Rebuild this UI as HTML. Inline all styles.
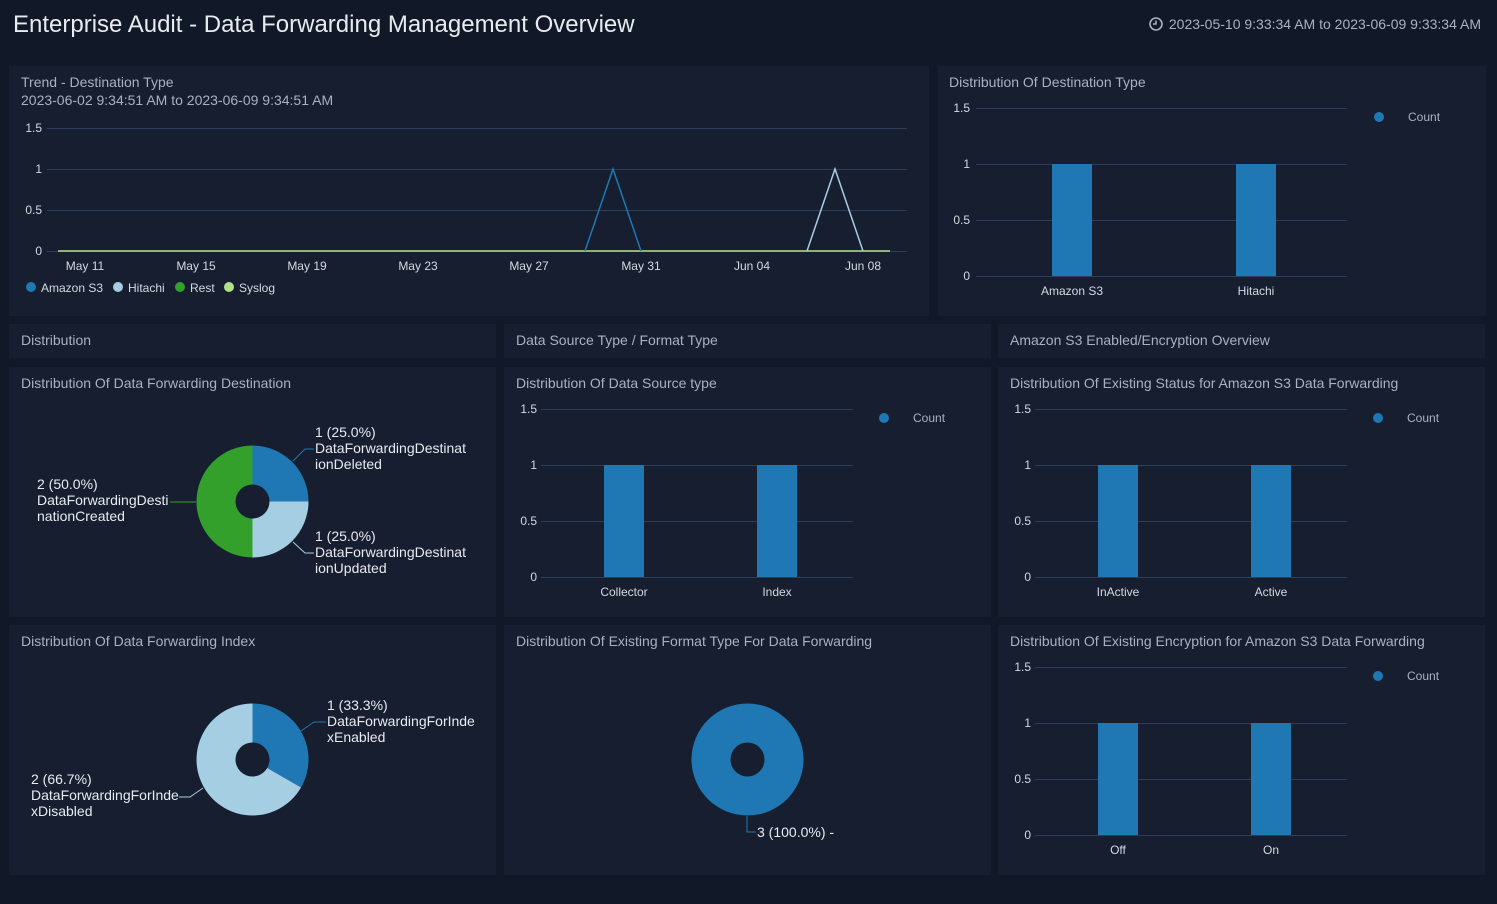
<!DOCTYPE html>
<html><head><meta charset="utf-8"><style>
body{margin:0;background:#111827;width:1497px;height:904px;overflow:hidden;font-family:"Liberation Sans",sans-serif}
svg{display:block}
</style></head><body>
<svg width="1497" height="904" xmlns="http://www.w3.org/2000/svg" font-family="Liberation Sans, sans-serif">
<rect width="1497" height="904" fill="#111827"/>
<g fill="#161e30">
<rect x="9" y="66" width="920" height="250"/>
<rect x="938" y="66" width="548" height="250"/>
<rect x="9" y="324" width="487" height="34"/>
<rect x="504" y="324" width="487" height="34"/>
<rect x="998" y="324" width="487" height="34"/>
<rect x="9" y="367" width="487" height="250"/>
<rect x="504" y="367" width="487" height="250"/>
<rect x="998" y="367" width="487" height="250"/>
<rect x="9" y="625" width="487" height="250"/>
<rect x="504" y="625" width="487" height="250"/>
<rect x="998" y="625" width="487" height="250"/>
</g>
<text x="13" y="32" font-size="24" fill="#e8ebf0">Enterprise Audit - Data Forwarding Management Overview</text>
<circle cx="1156" cy="24" r="6" fill="none" stroke="#aab2bf" stroke-width="1.6"/>
<path d="M1156 20.5V24H1153" stroke="#aab2bf" stroke-width="1.5" fill="none"/>
<text x="1481" y="29" font-size="14" fill="#aab2bf" text-anchor="end">2023-05-10 9:33:34 AM to 2023-06-09 9:33:34 AM</text>
<g font-size="14" fill="#aab2bf">
<text x="21" y="87">Trend - Destination Type</text>
<text x="21" y="105">2023-06-02 9:34:51 AM to 2023-06-09 9:34:51 AM</text>
<text x="949" y="87">Distribution Of Destination Type</text>
<text x="21" y="345">Distribution</text>
<text x="516" y="345">Data Source Type / Format Type</text>
<text x="1010" y="345">Amazon S3 Enabled/Encryption Overview</text>
<text x="21" y="388">Distribution Of Data Forwarding Destination</text>
<text x="516" y="388">Distribution Of Data Source type</text>
<text x="1010" y="388">Distribution Of Existing Status for Amazon S3 Data Forwarding</text>
<text x="21" y="646">Distribution Of Data Forwarding Index</text>
<text x="516" y="646">Distribution Of Existing Format Type For Data Forwarding</text>
<text x="1010" y="646">Distribution Of Existing Encryption for Amazon S3 Data Forwarding</text>
</g>
<!-- trend -->
<g stroke="#2d3d5a" stroke-width="1">
<line x1="47" y1="128.5" x2="907" y2="128.5"/><line x1="47" y1="169.5" x2="907" y2="169.5"/>
<line x1="47" y1="210.5" x2="907" y2="210.5"/><line x1="47" y1="251.5" x2="907" y2="251.5"/>
</g>
<g font-size="12" fill="#d5d9e0" text-anchor="end">
<text x="42" y="132">1.5</text><text x="42" y="173">1</text><text x="42" y="214">0.5</text><text x="42" y="255">0</text>
</g>
<g font-size="12" fill="#d5d9e0" text-anchor="middle">
<text x="85" y="270">May 11</text><text x="196" y="270">May 15</text><text x="307" y="270">May 19</text><text x="418" y="270">May 23</text>
<text x="529" y="270">May 27</text><text x="641" y="270">May 31</text><text x="752" y="270">Jun 04</text><text x="863" y="270">Jun 08</text>
</g>
<line x1="58" y1="251" x2="890" y2="251" stroke="#b2df8a" stroke-width="1.5"/>
<polyline points="585,251 613,169 641,251" fill="none" stroke="#1f78b4" stroke-width="1.5"/>
<polyline points="807,251 835,169 863,251" fill="none" stroke="#a6cee3" stroke-width="1.5"/>
<g font-size="12" fill="#d5d9e0">
<circle cx="31" cy="287" r="5" fill="#1f78b4"/><text x="41" y="292">Amazon S3</text>
<circle cx="118" cy="287" r="5" fill="#a6cee3"/><text x="128" y="292">Hitachi</text>
<circle cx="180" cy="287" r="5" fill="#33a02c"/><text x="190" y="292">Rest</text>
<circle cx="229" cy="287" r="5" fill="#b2df8a"/><text x="239" y="292">Syslog</text>
</g>
<!-- bar chart template -->
<g id="b1">
<g stroke="#2d3d5a"><line x1="976" y1="108.5" x2="1347" y2="108.5"/><line x1="976" y1="164.5" x2="1347" y2="164.5"/><line x1="976" y1="220.5" x2="1347" y2="220.5"/><line x1="976" y1="276.5" x2="1347" y2="276.5"/></g>
<g font-size="12" fill="#d5d9e0" text-anchor="end"><text x="970" y="112">1.5</text><text x="970" y="168">1</text><text x="970" y="224">0.5</text><text x="970" y="280">0</text></g>
<rect x="1052" y="164" width="40" height="112" fill="#1f78b4"/><rect x="1236" y="164" width="40" height="112" fill="#1f78b4"/>
<g font-size="12" fill="#d5d9e0" text-anchor="middle"><text x="1072" y="295">Amazon S3</text><text x="1256" y="295">Hitachi</text></g>
<circle cx="1379" cy="117" r="5" fill="#1f78b4"/><text x="1408" y="121" font-size="12" fill="#aab2bf">Count</text>
</g>
<g>
<g stroke="#2d3d5a"><line x1="541" y1="409.5" x2="853" y2="409.5"/><line x1="541" y1="465.5" x2="853" y2="465.5"/><line x1="541" y1="521.5" x2="853" y2="521.5"/><line x1="541" y1="577.5" x2="853" y2="577.5"/></g>
<g font-size="12" fill="#d5d9e0" text-anchor="end"><text x="537" y="413">1.5</text><text x="537" y="469">1</text><text x="537" y="525">0.5</text><text x="537" y="581">0</text></g>
<rect x="604" y="465" width="40" height="112" fill="#1f78b4"/><rect x="757" y="465" width="40" height="112" fill="#1f78b4"/>
<g font-size="12" fill="#d5d9e0" text-anchor="middle"><text x="624" y="596">Collector</text><text x="777" y="596">Index</text></g>
<circle cx="884" cy="418" r="5" fill="#1f78b4"/><text x="913" y="422" font-size="12" fill="#aab2bf">Count</text>
</g>
<g>
<g stroke="#2d3d5a"><line x1="1035" y1="409.5" x2="1347" y2="409.5"/><line x1="1035" y1="465.5" x2="1347" y2="465.5"/><line x1="1035" y1="521.5" x2="1347" y2="521.5"/><line x1="1035" y1="577.5" x2="1347" y2="577.5"/></g>
<g font-size="12" fill="#d5d9e0" text-anchor="end"><text x="1031" y="413">1.5</text><text x="1031" y="469">1</text><text x="1031" y="525">0.5</text><text x="1031" y="581">0</text></g>
<rect x="1098" y="465" width="40" height="112" fill="#1f78b4"/><rect x="1251" y="465" width="40" height="112" fill="#1f78b4"/>
<g font-size="12" fill="#d5d9e0" text-anchor="middle"><text x="1118" y="596">InActive</text><text x="1271" y="596">Active</text></g>
<circle cx="1378" cy="418" r="5" fill="#1f78b4"/><text x="1407" y="422" font-size="12" fill="#aab2bf">Count</text>
</g>
<g>
<g stroke="#2d3d5a"><line x1="1035" y1="667.5" x2="1347" y2="667.5"/><line x1="1035" y1="723.5" x2="1347" y2="723.5"/><line x1="1035" y1="779.5" x2="1347" y2="779.5"/><line x1="1035" y1="835.5" x2="1347" y2="835.5"/></g>
<g font-size="12" fill="#d5d9e0" text-anchor="end"><text x="1031" y="671">1.5</text><text x="1031" y="727">1</text><text x="1031" y="783">0.5</text><text x="1031" y="839">0</text></g>
<rect x="1098" y="723" width="40" height="112" fill="#1f78b4"/><rect x="1251" y="723" width="40" height="112" fill="#1f78b4"/>
<g font-size="12" fill="#d5d9e0" text-anchor="middle"><text x="1118" y="854">Off</text><text x="1271" y="854">On</text></g>
<circle cx="1378" cy="676" r="5" fill="#1f78b4"/><text x="1407" y="680" font-size="12" fill="#aab2bf">Count</text>
</g>
<!-- pie 1 -->
<path d="M252.5 445.5 A56 56 0 0 1 308.5 501.5 L252.5 501.5Z" fill="#1f78b4"/>
<path d="M308.5 501.5 A56 56 0 0 1 252.5 557.5 L252.5 501.5Z" fill="#a6cee3"/>
<path d="M252.5 557.5 A56 56 0 0 1 252.5 445.5 L252.5 501.5Z" fill="#33a02c"/>
<circle cx="252.5" cy="501.5" r="17" fill="#161e30"/>
<g fill="none" stroke-width="1">
<polyline points="293,461 305,449 314,449" stroke="#1f78b4"/>
<polyline points="293,542 305,553 314,553" stroke="#a6cee3"/>
<polyline points="196,502 170,502" stroke="#33a02c"/>
</g>
<g font-size="14" fill="#e8ebf0">
<text x="315" y="437">1 (25.0%)</text><text x="315" y="453">DataForwardingDestinat</text><text x="315" y="469">ionDeleted</text>
<text x="315" y="541">1 (25.0%)</text><text x="315" y="557">DataForwardingDestinat</text><text x="315" y="573">ionUpdated</text>
<text x="37" y="489">2 (50.0%)</text><text x="37" y="505">DataForwardingDesti</text><text x="37" y="521">nationCreated</text>
</g>
<!-- pie 2 -->
<path d="M252.5 703.5 A56 56 0 0 1 301 787.5 L252.5 759.5Z" fill="#1f78b4"/>
<path d="M301 787.5 A56 56 0 1 1 252.5 703.5 L252.5 759.5Z" fill="#a6cee3"/>
<circle cx="252.5" cy="759.5" r="17" fill="#161e30"/>
<polyline points="301,731 314,722 326,722" fill="none" stroke="#1f78b4"/>
<polyline points="203,788 190,797 179,797" fill="none" stroke="#a6cee3"/>
<g font-size="14" fill="#e8ebf0">
<text x="327" y="710">1 (33.3%)</text><text x="327" y="726">DataForwardingForInde</text><text x="327" y="742">xEnabled</text>
<text x="31" y="784">2 (66.7%)</text><text x="31" y="800">DataForwardingForInde</text><text x="31" y="816">xDisabled</text>
</g>
<!-- pie 3 -->
<circle cx="747.5" cy="759.5" r="56" fill="#1f78b4"/>
<circle cx="747.5" cy="759.5" r="17" fill="#161e30"/>
<polyline points="747,816 747,832 756,832" fill="none" stroke="#1f78b4"/>
<text x="757" y="837" font-size="14" fill="#e8ebf0">3 (100.0%) -</text>
</svg>
</body></html>
